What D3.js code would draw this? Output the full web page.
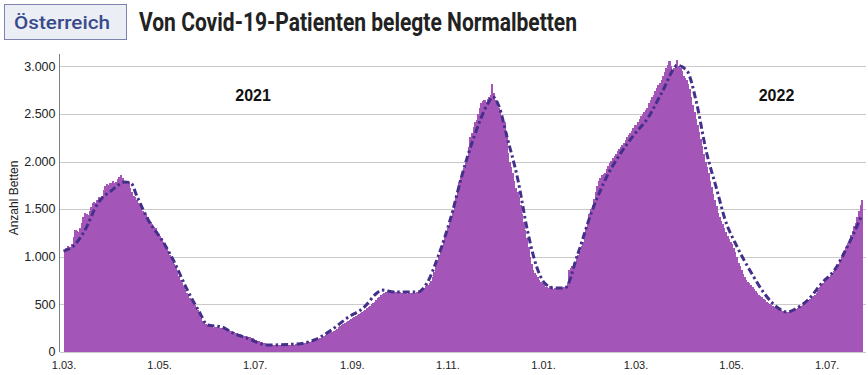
<!DOCTYPE html>
<html>
<head>
<meta charset="utf-8">
<script src="https://cdn.jsdelivr.net/npm/d3@7"></script>
<style>
  body { margin: 0; background: #fff; }
  svg { display: block; }
  .axis text { font-family: "Liberation Sans", Arial, sans-serif; fill: #222; }
</style>
</head>
<body>
<div id="chart"></div>
<script>
// belegte Normalbetten, ein Wert pro Tag ab 1.03.2021
var firstDay = "2021-03-01";
var mar21 = [1060,1090,1110,1100,1100,1130,1210,1280,1270,1260,1300,1360,1420,1460,1450,1440,1480,1520,1560,1580,1570,1600,1630,1610,1640,1700,1740,1760,1750,1780,1780];
var apr21 = [1800,1770,1790,1820,1840,1860,1830,1800,1790,1760,1790,1720,1680,1640,1630,1600,1560,1540,1520,1480,1460,1450,1420,1390,1370,1340,1310,1300,1270,1240];
var may21 = [1220,1190,1160,1140,1100,1060,1020,980,950,920,890,850,800,760,720,690,650,620,600,570,540,510,490,470,440,400,360,330,310,290,280];
var jun21 = [270,265,260,255,262,258,255,250,252,248,245,250,240,230,220,210,205,200,195,190,185,178,172,168,165,160,158,150,142,135];
var jul21 = [128,120,112,105,100,95,90,86,82,80,78,76,75,74,72,72,70,70,71,72,72,73,74,75,76,78,80,82,84,86,88];
var aug21 = [92,96,100,105,110,115,120,126,132,138,145,152,160,168,176,185,195,205,212,222,232,245,258,270,282,295,305,318,330,338,345];
var sep21 = [355,368,380,392,402,412,425,435,445,458,470,485,500,515,530,548,565,580,595,610,620,630,635,640,645,642,640,635,632,628];
var oct21 = [625,622,620,618,615,612,615,618,620,620,622,625,630,638,648,660,672,690,705,725,750,790,840,900,950,1000,1060,1120,1170,1210,1260];
var nov21 = [1300,1360,1430,1490,1560,1640,1720,1790,1840,1880,1930,1985,2040,2150,2260,2300,2360,2420,2440,2500,2560,2615,2640,2650,2630,2660,2680,2700,2820,2720];
var dec21 = [2650,2575,2560,2520,2470,2440,2420,2300,2090,2000,1940,1880,1800,1720,1680,1630,1540,1450,1370,1280,1200,1100,1000,920,860,830,810,790,760,740,720];
var jan22 = [700,685,680,672,690,670,665,672,668,660,665,670,672,680,690,720,860,880,900,930,945,980,1020,1060,1110,1155,1230,1300,1380,1450,1500];
var feb22 = [1545,1610,1680,1740,1800,1830,1860,1870,1880,1920,1950,1980,2010,2040,2060,2080,2110,2130,2150,2175,2200,2230,2260,2280,2300,2320,2350,2385];
var mar22 = [2380,2420,2450,2480,2500,2520,2540,2560,2620,2650,2680,2700,2740,2770,2800,2830,2860,2900,2940,2980,3010,3060,3000,2960,2980,3020,3070,3000,2980,2950,2900];
var apr22 = [2880,2860,2820,2760,2680,2595,2520,2450,2380,2310,2240,2160,2080,2000,1940,1880,1800,1730,1660,1600,1530,1460,1420,1380,1340,1300,1260,1220,1190,1160];
var may22 = [1130,1090,1050,1000,940,900,860,820,790,760,740,720,700,680,660,640,620,600,585,575,560,545,530,515,500,490,480,470,462,455,450];
var jun22 = [445,435,428,420,418,420,425,430,435,441,450,460,470,480,490,505,515,530,545,560,575,590,600,620,650,680,700,720,740,756];
var jul22 = [770,790,810,830,850,861,880,920,960,1000,1040,1070,1100,1150,1190,1230,1270,1320,1355,1420,1480,1540,1600];

// Trendlinie (strichpunktiert)
var trendDates = ["2021-03-01","2021-03-08","2021-03-14","2021-03-23","2021-04-01","2021-04-09","2021-04-13","2021-04-17","2021-04-24",
  "2021-05-04","2021-05-11","2021-05-19","2021-05-26","2021-06-01","2021-06-10","2021-06-17","2021-06-26","2021-07-09","2021-07-28",
  "2021-08-08","2021-08-19","2021-08-29","2021-09-09","2021-09-17","2021-09-20","2021-09-28","2021-10-13","2021-10-19","2021-10-26",
  "2021-11-04","2021-11-10","2021-11-18","2021-11-27","2021-11-30","2021-12-04","2021-12-09","2021-12-16","2021-12-22","2021-12-28",
  "2022-01-02","2022-01-08","2022-01-15","2022-01-23","2022-02-01","2022-02-09","2022-02-20","2022-02-28","2022-03-09","2022-03-18",
  "2022-03-28","2022-04-03","2022-04-09","2022-04-15","2022-04-22","2022-04-27","2022-05-05","2022-05-14","2022-05-22","2022-05-31",
  "2022-06-06","2022-06-12","2022-06-19","2022-06-28","2022-07-06","2022-07-14","2022-07-23"];
var trendValues = [1060,1124,1260,1565,1700,1785,1775,1630,1390,
  1145,935,651,441,284,263,200,147,74,84,
  126,231,357,473,620,651,630,630,725,1000,
  1460,1840,2260,2615,2680,2575,2260,1807,1280,893,
  725,672,672,1020,1470,1785,2100,2280,2460,2730,
  3010,2950,2615,2120,1700,1400,1100,830,620,462,
  420,462,546,725,861,1100,1420];

var yTicks = [0, 500, 1000, 1500, 2000, 2500, 3000];
var xTickDates = ["2021-03-01","2021-05-01","2021-07-01","2021-09-01","2021-11-01","2022-01-01","2022-03-01","2022-05-01","2022-07-01"];
var yearLabels = ["2021", "2022"];
var yearLabelDates = ["2021-06-30", "2022-05-30"];

var parse = d3.utcParse("%Y-%m-%d");
var beds = [].concat(mar21, apr21, may21, jun21, jul21, aug21, sep21, oct21, nov21, dec21,
                     jan22, feb22, mar22, apr22, may22, jun22, jul22);
var start = parse(firstDay);
var dataset = beds.map(function (v, i) { return { date: d3.utcDay.offset(start, i), value: v }; });
var trend = trendDates.map(function (d, i) { return { date: parse(d), value: trendValues[i] }; });

var width = 868, height = 375;
var plot = { left: 63.5, right: 862.7, top: 54, bottom: 352 };

var svg = d3.select("#chart").append("svg")
    .attr("width", width)
    .attr("height", height);

var xScale = d3.scaleUtc()
    .domain([start, d3.utcDay.offset(start, beds.length)])
    .range([plot.left, plot.right]);

var yScale = d3.scaleLinear()
    .domain([0, 3130])
    .range([plot.bottom, plot.top]);

// grid
svg.append("g")
    .attr("class", "grid")
    .selectAll("line")
    .data(yTicks)
    .enter().append("line")
    .attr("x1", 60).attr("x2", 866)
    .attr("y1", function (d) { return Math.round(yScale(d)) + 0.5; })
    .attr("y2", function (d) { return Math.round(yScale(d)) + 0.5; })
    .attr("stroke", "#cacaca")
    .attr("stroke-width", 1);

// bars (crispEdges so the thin daily bars don't stripe)
svg.append("g")
    .attr("class", "bars")
    .attr("shape-rendering", "crispEdges")
    .selectAll("rect")
    .data(dataset)
    .enter().append("rect")
    .attr("x", function (d) { return xScale(d.date); })
    .attr("y", function (d) { return yScale(d.value); })
    .attr("width", function (d) { return xScale(d3.utcDay.offset(d.date, 1)) - xScale(d.date) + 0.6; })
    .attr("height", function (d) { return plot.bottom - yScale(d.value); })
    .attr("fill", "#a455b8");

// trend line
var lineGen = d3.line()
    .x(function (d) { return xScale(d.date); })
    .y(function (d) { return yScale(d.value); })
    .curve(d3.curveMonotoneX);

svg.append("path")
    .datum(trend)
    .attr("d", lineGen)
    .attr("fill", "none")
    .attr("stroke", "#44308a")
    .attr("stroke-width", 3)
    .attr("stroke-dasharray", "7,3,2.5,3");

// y axis
var yAxis = svg.append("g")
    .attr("class", "axis y")
    .attr("transform", "translate(59.5,0)")
    .call(d3.axisLeft(yScale).tickValues(yTicks).tickSize(0).tickPadding(4)
        .tickFormat(function (d) { return d3.format(",")(d).replace(/,/g, "."); }));
yAxis.select(".domain").attr("stroke", "#808080").attr("d", "M0," + plot.top + "V" + plot.bottom);
yAxis.selectAll("text").attr("font-size", 12.5).attr("dy", "0.3em");

// x axis
var xAxis = svg.append("g")
    .attr("class", "axis x")
    .attr("transform", "translate(0," + plot.bottom + ")")
    .call(d3.axisBottom(xScale).tickValues(xTickDates.map(parse)).tickSize(0).tickPadding(9)
        .tickFormat(d3.utcFormat("%-d.%m.")));
xAxis.select(".domain").remove();
xAxis.selectAll("text").attr("font-size", 11);

// axis title
svg.append("text")
    .attr("transform", "translate(18,198) rotate(-90)")
    .attr("text-anchor", "middle")
    .attr("font-family", "'Liberation Sans', Arial, sans-serif")
    .attr("font-size", 12)
    .attr("fill", "#222")
    .text("Anzahl Betten");

// year labels
svg.append("g").selectAll("text")
    .data(yearLabels)
    .enter().append("text")
    .attr("x", function (d, i) { return xScale(parse(yearLabelDates[i])); })
    .attr("y", yScale(2690) + 5)
    .attr("text-anchor", "middle")
    .attr("font-family", "'Liberation Sans', Arial, sans-serif")
    .attr("font-weight", "bold")
    .attr("font-size", 16)
    .attr("fill", "#111")
    .text(function (d) { return d; });

// header
svg.append("rect")
    .attr("x", 4.5).attr("y", 4.5)
    .attr("width", 122).attr("height", 35)
    .attr("fill", "#eceef6")
    .attr("stroke", "#7e83ad");

svg.append("text")
    .attr("x", 14).attr("y", 29)
    .attr("font-family", "Roboto, sans-serif")
    .attr("font-weight", 500)
    .attr("font-size", 19)
    .attr("fill", "#394a8b")
    .attr("textLength", 96)
    .attr("lengthAdjust", "spacingAndGlyphs")
    .text("Österreich");

svg.append("text")
    .attr("x", 139).attr("y", 31)
    .attr("font-family", "Roboto, sans-serif")
    .attr("font-weight", "bold")
    .attr("font-size", 25)
    .attr("fill", "#222")
    .attr("textLength", 438)
    .attr("lengthAdjust", "spacingAndGlyphs")
    .text("Von Covid-19-Patienten belegte Normalbetten");
</script>
</body>
</html>
